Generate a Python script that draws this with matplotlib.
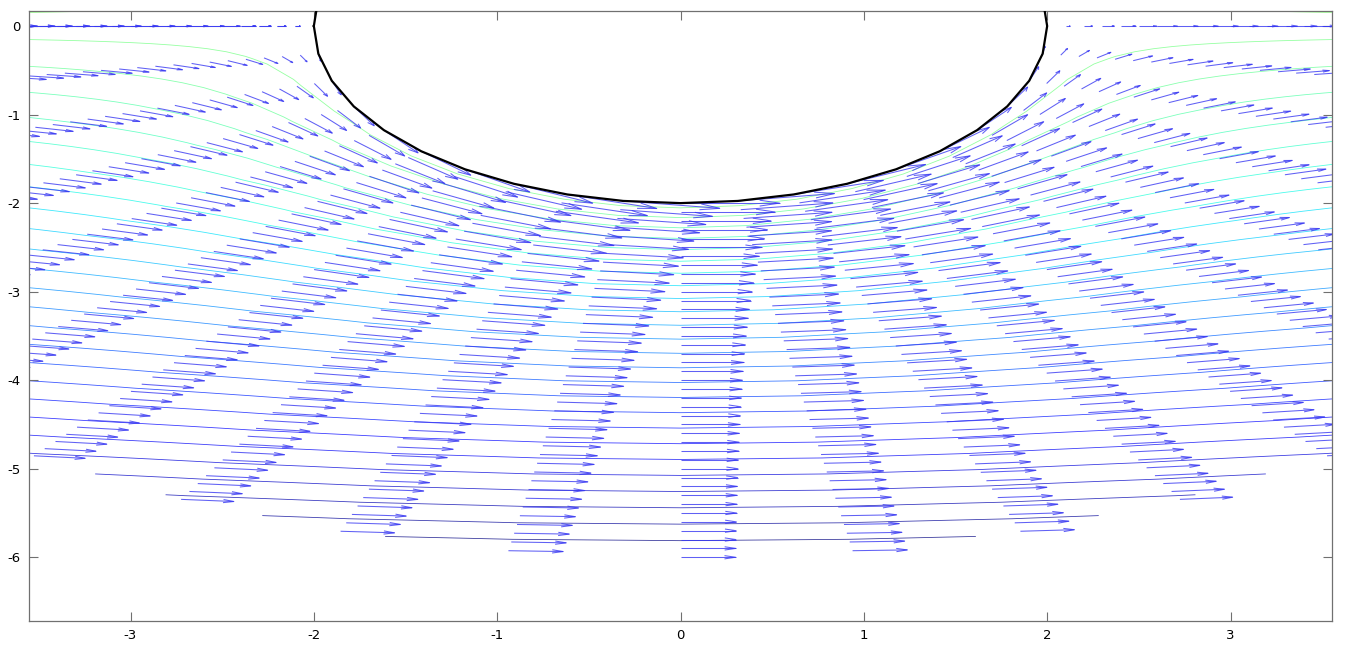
import numpy as np
import matplotlib
matplotlib.use("Agg")
import matplotlib.pyplot as plt
from matplotlib.collections import LineCollection

# ---- chart parameters / data ----
cylinder_radius = 2.0
free_stream_speed = 1.0
grid_radii = [2.0, 2.1, 2.2, 2.3, 2.4, 2.5, 2.6, 2.7, 2.8, 2.9,
              3.0, 3.1, 3.2, 3.3, 3.4, 3.5, 3.6, 3.7, 3.8, 3.9,
              4.0, 4.1, 4.2, 4.3, 4.4, 4.5, 4.6, 4.7, 4.8, 4.9,
              5.0, 5.1, 5.2, 5.3, 5.4, 5.5, 5.6, 5.7, 5.8, 5.9, 6.0]
grid_angles_deg = [-180, -171, -162, -153, -144, -135, -126, -117, -108, -99,
                   -90, -81, -72, -63, -54, -45, -36, -27, -18, -9,
                   0, 9, 18, 27, 36, 45, 54, 63, 72, 81,
                   90, 99, 108, 117, 126, 135, 144, 153, 162, 171, 180]
outline_angles_deg = grid_angles_deg
n_contour_levels = 50
arrow_scale = 0.27
x_ticks = [-3, -2, -1, 0, 1, 2, 3]
y_ticks = [-6, -5, -4, -3, -2, -1, 0]
x_limits = (-3.552, 3.552)
y_limits = (-6.72, 0.17)

plt.rcParams['axes.unicode_minus'] = False
plt.rcParams['font.family'] = ['DejaVu Sans']

# ---- field (potential flow around a cylinder) ----
R, T = np.meshgrid(np.array(grid_radii), np.radians(grid_angles_deg), indexing='ij')
X = R * np.cos(T)
Y = R * np.sin(T)
a2 = cylinder_radius ** 2
r2 = X ** 2 + Y ** 2
U = free_stream_speed * (1 - a2 * (X ** 2 - Y ** 2) / r2 ** 2)
V = -free_stream_speed * 2 * a2 * X * Y / r2 ** 2
PSI = free_stream_speed * Y * (1 - a2 / r2)
levels = np.linspace(PSI.min(), PSI.max(), n_contour_levels + 2)[1:-1]

fig = plt.figure(figsize=(13.45, 6.53), dpi=100)
ax = fig.add_axes([29.3 / 1345, (653 - 621) / 653, (1331.7 - 29.3) / 1345, (621 - 11) / 653])

ax.contour(X, Y, PSI, levels=levels, cmap='jet', vmin=levels.min(), vmax=levels.max(),
           linewidths=0.6, alpha=0.75, zorder=1)

# quiver arrows (Octave style: heads proportional to arrow length)
ok = np.hypot(U, V) > 1e-9
x0 = X[ok]; y0 = Y[ok]
du = arrow_scale * U[ok]; dv = arrow_scale * V[ok]
tx = x0 + du; ty = y0 + dv
hs = 0.2
bx = x0 + du * (1 - hs); by = y0 + dv * (1 - hs)
wf = hs / 3 * 1.15
w1x = bx - dv * (1 - hs) * wf; w1y = by + du * (1 - hs) * wf
w2x = bx + dv * (1 - hs) * wf; w2y = by - du * (1 - hs) * wf
segs = []
for i in range(len(x0)):
    segs.append([(x0[i], y0[i]), (tx[i], ty[i])])
    segs.append([(w1x[i], w1y[i]), (tx[i], ty[i]), (w2x[i], w2y[i])])
ax.add_collection(LineCollection(segs, colors=[(0.22, 0.22, 0.95)], linewidths=0.75,
                                 alpha=0.8, zorder=2))

# cylinder outline (polygon)
th = np.radians(outline_angles_deg)
ax.plot(cylinder_radius * np.cos(th), cylinder_radius * np.sin(th), color='black',
        lw=1.6, zorder=3)

ax.set_xlim(*x_limits)
ax.set_ylim(*y_limits)
ax.set_xticks(x_ticks)
ax.set_yticks(y_ticks)
ax.set_xticklabels([str(v) for v in x_ticks])
ax.set_yticklabels([str(v) for v in y_ticks])
ax.tick_params(direction='in', length=6.5, width=0.8, color='#707070', top=True,
               right=True, labelsize=9.5, pad=6, labelcolor='black')
for s in ax.spines.values():
    s.set_color('#707070')
    s.set_linewidth(0.9)

fig.savefig('out.png', dpi=100)
